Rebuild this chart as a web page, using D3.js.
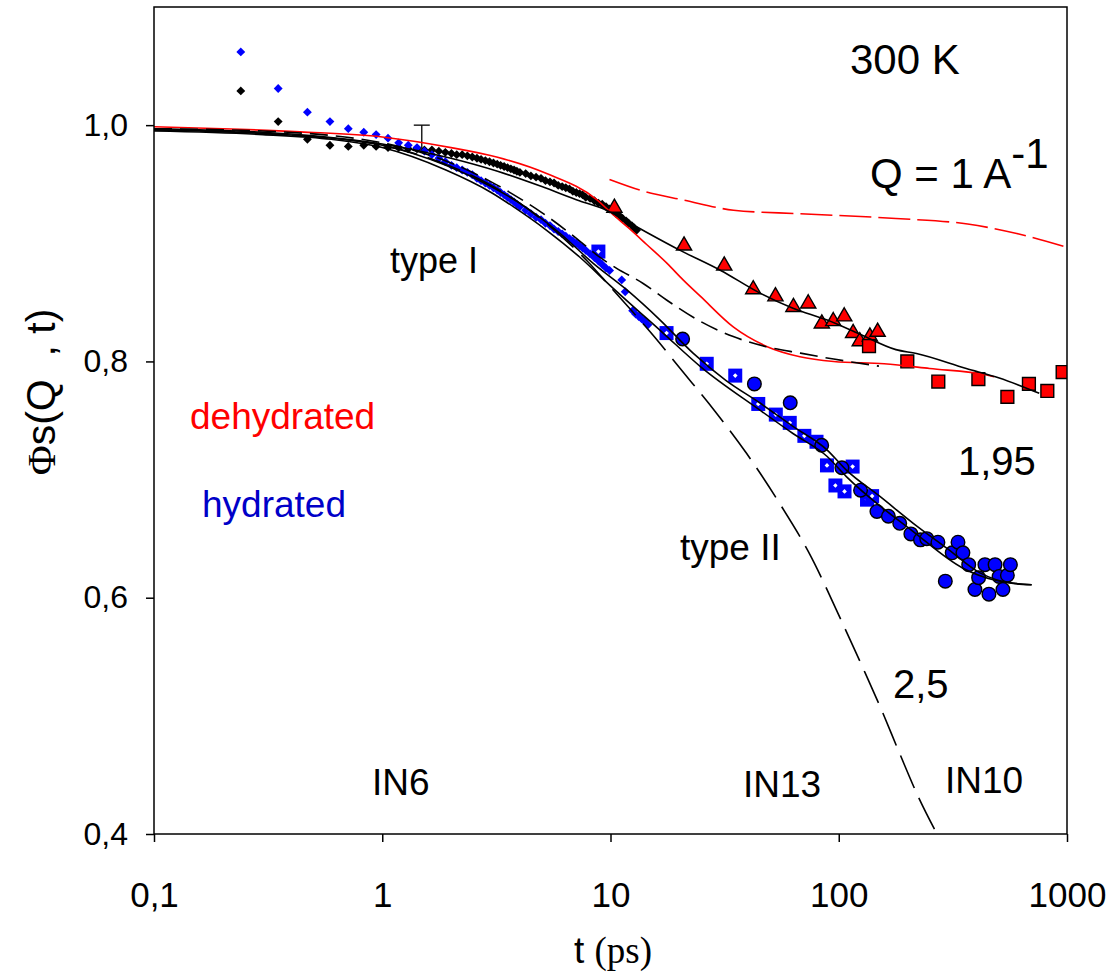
<!DOCTYPE html>
<html>
<head>
<meta charset="utf-8">
<script src="https://cdn.jsdelivr.net/npm/d3@7"></script>
<style>
  body { margin: 0; background: #fff; }
  svg { font-family: Arial, "Liberation Sans", sans-serif; }
</style>
</head>
<body>
<div id="chart"></div>
<script>
// axis ticks
const xTicks = [0.1, 1, 10, 100, 1000];
const xTickLabels = ['0,1', '1', '10', '100', '1000'];
const yTicks = [0.4, 0.6, 0.8, 1.0];
const yTickLabels = ['0,4', '0,6', '0,8', '1,0'];

// IN6 dehydrated (black diamonds)
const tDeh6 = [0.24, 0.35, 0.47, 0.59, 0.71, 0.83, 0.94, 1.06, 1.18, 1.30, 1.42, 1.53, 1.65, 1.77, 1.89,
  2.01, 2.12, 2.24, 2.36, 2.48, 2.60, 2.71, 2.83, 2.95, 3.07, 3.19, 3.30, 3.42, 3.54, 3.66, 3.78, 3.89,
  4.01, 4.25, 4.48, 4.72, 4.96, 5.19, 5.43, 5.66, 5.90, 6.14, 6.37, 6.61, 6.84, 7.08, 7.32, 7.55, 7.79,
  8.14, 8.50, 8.85, 9.20, 9.56, 9.91, 10.3, 10.6, 11.0, 11.3, 11.7, 12.0, 12.4, 12.7, 13.0];
const phiDeh6 = [1.029, 1.003, 0.988, 0.983, 0.982, 0.983, 0.982, 0.981, 0.981, 0.980, 0.980, 0.979, 0.979, 0.978, 0.977,
  0.976, 0.975, 0.975, 0.974, 0.973, 0.972, 0.971, 0.970, 0.969, 0.968, 0.967, 0.966, 0.965, 0.964, 0.963, 0.962, 0.961,
  0.960, 0.959, 0.957, 0.956, 0.955, 0.953, 0.952, 0.951, 0.949, 0.948, 0.947, 0.946, 0.944, 0.943, 0.942, 0.941, 0.939,
  0.938, 0.936, 0.934, 0.933, 0.931, 0.929, 0.927, 0.925, 0.923, 0.921, 0.919, 0.917, 0.915, 0.913, 0.911];

// IN6 hydrated (blue diamonds)
const tHyd6 = [0.24, 0.35, 0.47, 0.59, 0.71, 0.83, 0.94, 1.06, 1.18, 1.30, 1.42, 1.53, 1.65, 1.77, 1.89,
  2.01, 2.12, 2.24, 2.36, 2.48, 2.60, 2.71, 2.83, 2.95, 3.07, 3.19, 3.30, 3.42, 3.54, 3.66, 3.78, 3.89,
  4.01, 4.25, 4.48, 4.72, 4.96, 5.19, 5.43, 5.66, 5.90, 6.14, 6.37, 6.61, 6.84, 7.08, 7.32, 7.55, 7.79,
  8.14, 8.50, 8.85, 9.20, 9.56, 9.91, 11.2, 11.6, 12.5, 12.9, 13.3, 13.7, 14.1, 14.6];
const phiHyd6 = [1.062, 1.031, 1.011, 1.003, 0.997, 0.994, 0.992, 0.989, 0.985, 0.983, 0.981, 0.978, 0.975, 0.972, 0.969,
  0.966, 0.964, 0.962, 0.960, 0.958, 0.955, 0.953, 0.951, 0.949, 0.947, 0.945, 0.943, 0.941, 0.939, 0.937, 0.935, 0.933,
  0.931, 0.928, 0.925, 0.922, 0.920, 0.917, 0.915, 0.912, 0.910, 0.908, 0.906, 0.904, 0.902, 0.900, 0.898, 0.896, 0.894,
  0.891, 0.888, 0.885, 0.882, 0.879, 0.877, 0.869, 0.859, 0.843, 0.840, 0.838, 0.836, 0.834, 0.831];

// IN13 dehydrated (red triangles)
const tDeh13 = [10.4, 21.0, 31.5, 42.2, 52.8, 63.3, 73.5, 84.3, 94.6, 105.7, 115.6, 123.6, 136.9, 148];
const phiDeh13 = [0.930, 0.898, 0.881, 0.861, 0.855, 0.846, 0.849, 0.832, 0.834, 0.838, 0.824, 0.817, 0.821, 0.825];

// IN10 dehydrated (red squares)
const tDeh10 = [135.7, 199.7, 273, 409, 548, 681, 820, 957];
const phiDeh10 = [0.813, 0.800, 0.783, 0.785, 0.770, 0.781, 0.775, 0.791];

// IN13 hydrated (blue squares, white centre)
const tHyd13 = [8.85, 17.6, 26.4, 35.2, 44.4, 53.0, 61.0, 70.7, 79.9, 88.8, 96.7, 106, 115, 133, 140];
const phiHyd13 = [0.893, 0.824, 0.798, 0.788, 0.764, 0.755, 0.748, 0.737, 0.732, 0.712, 0.695, 0.690, 0.711, 0.683, 0.686];

// IN10 hydrated (blue circles)
const tHyd10 = [20.7, 42.7, 61.3, 84.2, 103.2, 124.6, 147, 165, 185, 207, 228, 243, 272, 293, 314, 333, 350,
  371, 395, 410, 437, 455, 484, 504, 524, 548, 565];
const phiHyd10 = [0.819, 0.781, 0.765, 0.729, 0.710, 0.691, 0.673, 0.669, 0.663, 0.654, 0.649, 0.650, 0.647, 0.614,
  0.638, 0.647, 0.638, 0.628, 0.607, 0.617, 0.628, 0.603, 0.628, 0.618, 0.607, 0.619, 0.628];

// error bar on the IN6 dehydrated data
const errT = [1.49];
const errLo = [0.980];
const errHi = [1.0];

// fitted curves
const tFitDeh = [0.1, 0.2, 0.436, 1, 2, 3.17, 5.25, 8.7, 10.3, 12, 14.4, 17.7, 20.8, 24.8, 34.6, 48.6, 67.6, 95, 158, 250, 445, 480];
const phiFitDeh = [0.9987, 0.997, 0.9943, 0.990, 0.981, 0.973, 0.959, 0.937, 0.924, 0.913, 0.899, 0.883, 0.869, 0.855, 0.829, 0.8125, 0.804, 0.800, 0.798, 0.794, 0.7885, 0.787];

const tFitDehDash = [9.9, 14, 20.9, 34.6, 67.6, 178, 367, 609, 1000];
const phiFitDehDash = [0.954, 0.944, 0.9366, 0.928, 0.925, 0.921, 0.9163, 0.908, 0.8965];

const tTypeI = [0.1, 0.3, 0.5, 1, 2, 3.2, 5, 7.3, 9.6, 13, 20.2, 30.4, 45, 63, 89, 124, 178, 219, 362, 505, 756];
const phiTypeI = [0.997, 0.994, 0.991, 0.984, 0.972, 0.961, 0.948, 0.936, 0.928, 0.914, 0.894, 0.877, 0.858, 0.845, 0.835, 0.823, 0.810, 0.8067, 0.794, 0.786, 0.773];

const tHydA = [0.1, 0.3, 0.6, 1, 1.9, 3, 4, 6, 8.4, 11.8, 16.5, 23, 32, 45, 63, 89, 108, 152, 212, 297, 416, 582, 700];
const phiHydA = [0.996, 0.993, 0.989, 0.983, 0.966, 0.948, 0.934, 0.9085, 0.883, 0.8605, 0.835, 0.807, 0.784, 0.765, 0.745, 0.725, 0.708, 0.6855, 0.663, 0.642, 0.621, 0.612, 0.611];

const tHydB = [0.1, 0.3, 0.6, 1, 1.9, 3, 3.75, 5.25, 7.3, 10, 17, 25, 45, 63, 89, 108, 212, 350, 480, 700];
const phiHydB = [0.995, 0.992, 0.988, 0.981, 0.962, 0.943, 0.931, 0.911, 0.8886, 0.864, 0.824, 0.795, 0.759, 0.739, 0.7195, 0.7025, 0.656, 0.625, 0.615, 0.611];

const tHydDash = [0.1, 0.3, 1, 2, 3, 4, 5, 7, 9, 10.6, 13.9, 17.6, 24.7, 34.5, 48, 68, 95, 150];
const phiHydDash = [0.997, 0.995, 0.985, 0.968, 0.952, 0.938, 0.926, 0.905, 0.888, 0.879, 0.866, 0.852, 0.834, 0.821, 0.8125, 0.807, 0.802, 0.796];

const tTypeII = [0.1, 0.3, 1, 2, 3, 4, 5, 6.5, 8, 10, 12.5, 15.7, 20.2, 28.8, 39.5, 55, 73.6, 104.7, 128, 154, 185, 223, 268.5];
const phiTypeII = [0.996, 0.993, 0.983, 0.965, 0.949, 0.934, 0.920, 0.901, 0.884, 0.863, 0.842, 0.820, 0.794, 0.7575, 0.722, 0.680, 0.639, 0.577, 0.540, 0.505, 0.468, 0.4316, 0.4006];

const zip = (ts, vs) => ts.map((t, i) => ({ t, v: vs[i] }));

class PhiChart {
  constructor(_config) {
    this.config = {
      parentElement: _config.parentElement,
      containerWidth: 1116,
      containerHeight: 980,
      margin: {
        top: 7, right: 49, bottom: 146, left: 154,
      },
    };
    this.initVis();
  }

  initVis() {
    const vis = this;

    vis.width = vis.config.containerWidth - vis.config.margin.left - vis.config.margin.right;
    vis.height = vis.config.containerHeight - vis.config.margin.top - vis.config.margin.bottom;

    vis.svg = d3.select(vis.config.parentElement).append('svg')
      .attr('width', vis.config.containerWidth)
      .attr('height', vis.config.containerHeight);

    vis.chart = vis.svg.append('g')
      .attr('transform', `translate(${vis.config.margin.left},${vis.config.margin.top})`);

    vis.svg.append('defs').append('clipPath')
      .attr('id', 'plot-clip')
      .append('rect')
      .attr('width', vis.width)
      .attr('height', vis.height);

    vis.xScale = d3.scaleLog()
      .domain([0.1, 1000])
      .range([0, vis.width]);

    vis.yScale = d3.scaleLinear()
      .domain([0.4, 1.1])
      .range([vis.height, 0]);

    vis.xAxis = d3.axisBottom(vis.xScale)
      .tickValues(xTicks)
      .tickFormat((d, i) => xTickLabels[i])
      .tickSizeInner(8)
      .tickSizeOuter(0)
      .tickPadding(40);

    vis.yAxis = d3.axisLeft(vis.yScale)
      .tickValues(yTicks)
      .tickFormat((d, i) => yTickLabels[i])
      .tickSizeInner(8)
      .tickSizeOuter(0)
      .tickPadding(18);

    vis.xAxisG = vis.chart.append('g')
      .attr('class', 'axis x-axis')
      .attr('transform', `translate(0,${vis.height})`);

    vis.yAxisG = vis.chart.append('g')
      .attr('class', 'axis y-axis');

    vis.line = d3.line()
      .x((d) => vis.xScale(d.t))
      .y((d) => vis.yScale(d.v))
      .curve(d3.curveMonotoneX);

    vis.renderVis();
  }

  renderVis() {
    const vis = this;
    const x = vis.xScale;
    const y = vis.yScale;

    // axes
    vis.xAxisG.call(vis.xAxis)
      .call((g) => g.select('.domain').remove());
    vis.yAxisG.call(vis.yAxis)
      .call((g) => g.select('.domain').remove());
    vis.chart.selectAll('.tick line').attr('stroke', '#000').attr('stroke-width', 1.5);
    vis.chart.selectAll('.tick text')
      .attr('fill', '#000')
      .style('font-family', 'Arial, "Liberation Sans", sans-serif');
    vis.xAxisG.selectAll('.tick text').style('font-size', '35px');
    vis.yAxisG.selectAll('.tick text').style('font-size', '32px');

    const plot = vis.chart.append('g').attr('clip-path', 'url(#plot-clip)');

    // IN6 small diamonds
    const diamond = d3.symbol().type(d3.symbolDiamond2).size(50);
    plot.selectAll('.in6-deh').data(zip(tDeh6, phiDeh6)).join('path')
      .attr('class', 'in6-deh')
      .attr('d', diamond)
      .attr('transform', (d) => `translate(${x(d.t)},${y(d.v)})`)
      .attr('fill', '#000');
    plot.selectAll('.in6-hyd').data(zip(tHyd6, phiHyd6)).join('path')
      .attr('class', 'in6-hyd')
      .attr('d', diamond)
      .attr('transform', (d) => `translate(${x(d.t)},${y(d.v)})`)
      .attr('fill', '#0000ff');

    // error bar (upper half)
    const err = errT.map((t, i) => ({ t, lo: errLo[i], hi: errHi[i] }));
    plot.selectAll('.err-v').data(err).join('line')
      .attr('class', 'err-v')
      .attr('x1', (d) => x(d.t)).attr('x2', (d) => x(d.t))
      .attr('y1', (d) => y(d.lo)).attr('y2', (d) => y(d.hi))
      .attr('stroke', '#000').attr('stroke-width', 1.3);
    plot.selectAll('.err-cap').data(err).join('line')
      .attr('class', 'err-cap')
      .attr('x1', (d) => x(d.t) - 8).attr('x2', (d) => x(d.t) + 8)
      .attr('y1', (d) => y(d.hi)).attr('y2', (d) => y(d.hi))
      .attr('stroke', '#000').attr('stroke-width', 1.3);

    // IN13 / IN10 dehydrated
    plot.selectAll('.in13-deh').data(zip(tDeh13, phiDeh13)).join('path')
      .attr('class', 'in13-deh')
      .attr('d', d3.symbol().type(d3.symbolTriangle).size(100))
      .attr('transform', (d) => `translate(${x(d.t)},${y(d.v)})`)
      .attr('fill', '#ff0000')
      .attr('stroke', '#000')
      .attr('stroke-width', 1.4);
    plot.selectAll('.in10-deh').data(zip(tDeh10, phiDeh10)).join('path')
      .attr('class', 'in10-deh')
      .attr('d', d3.symbol().type(d3.symbolSquare).size(165))
      .attr('transform', (d) => `translate(${x(d.t)},${y(d.v)})`)
      .attr('fill', '#ff0000')
      .attr('stroke', '#000')
      .attr('stroke-width', 1.4);

    // IN13 hydrated: blue square with white centre
    const sq = plot.selectAll('.in13-hyd').data(zip(tHyd13, phiHyd13)).join('g')
      .attr('class', 'in13-hyd')
      .attr('transform', (d) => `translate(${x(d.t)},${y(d.v)})`);
    sq.append('rect')
      .attr('x', -7).attr('y', -7)
      .attr('width', 14).attr('height', 14)
      .attr('fill', '#0000ff');
    sq.append('path')
      .attr('d', d3.symbol().type(d3.symbolDiamond2).size(14))
      .attr('fill', '#fff');

    // IN10 hydrated circles
    plot.selectAll('.in10-hyd').data(zip(tHyd10, phiHyd10)).join('circle')
      .attr('class', 'in10-hyd')
      .attr('cx', (d) => x(d.t))
      .attr('cy', (d) => y(d.v))
      .attr('r', 6.8)
      .attr('fill', '#0000ff')
      .attr('stroke', '#000')
      .attr('stroke-width', 1.4);

    // fitted curves
    const curves = [
      { data: zip(tFitDeh, phiFitDeh), color: '#ff0000', dash: null },
      { data: zip(tFitDehDash, phiFitDehDash), color: '#ff0000', dash: '32,7' },
      { data: zip(tTypeI, phiTypeI), color: '#000', dash: null },
      { data: zip(tHydA, phiHydA), color: '#000', dash: null },
      { data: zip(tHydB, phiHydB), color: '#000', dash: null },
      { data: zip(tHydDash, phiHydDash), color: '#000', dash: '18,8' },
      { data: zip(tTypeII, phiTypeII), color: '#000', dash: '35,11' },
    ];
    plot.selectAll('.fit').data(curves).join('path')
      .attr('class', 'fit')
      .attr('d', (d) => vis.line(d.data))
      .attr('fill', 'none')
      .attr('stroke', (d) => d.color)
      .attr('stroke-width', 1.6)
      .attr('stroke-dasharray', (d) => d.dash);

    // frame
    vis.chart.append('rect')
      .attr('width', vis.width)
      .attr('height', vis.height)
      .attr('fill', 'none')
      .attr('stroke', '#000')
      .attr('stroke-width', 1.5);

    // annotations (absolute positions on the svg)
    const note = (txt, px, py, size, color) => vis.svg.append('text')
      .attr('x', px).attr('y', py)
      .attr('fill', color || '#000')
      .style('font-size', `${size}px`)
      .text(txt);

    note('300 K', 850, 74, 42);
    const q = note('Q = 1 A', 870, 188, 42);
    q.append('tspan').attr('dy', -20).text('-1');
    note('type I', 390, 273, 36);
    note('dehydrated', 190, 429, 37, '#ff0000');
    note('hydrated', 202, 517, 37, '#0000c8');
    note('type II', 680, 560, 37);
    note('1,95', 958, 475, 40);
    note('2,5', 893, 698, 40);
    note('IN6', 372, 795, 37);
    note('IN13', 743, 797, 37);
    note('IN10', 945, 793, 37);

    // axis titles
    const xt = vis.svg.append('text')
      .attr('x', 613).attr('y', 963)
      .attr('text-anchor', 'middle')
      .style('font-size', '37px')
      .text('t ');
    xt.append('tspan')
      .style('font-family', '"Liberation Serif", "Times New Roman", serif')
      .text('(ps)');

    const yt = vis.svg.append('text')
      .attr('transform', 'translate(55,392) rotate(-90)')
      .attr('text-anchor', 'middle')
      .style('font-size', '41px')
      .style('white-space', 'pre');
    yt.append('tspan')
      .style('font-family', '"Liberation Serif", "Times New Roman", serif')
      .text('Φ');
    yt.append('tspan').text('s(Q  , t)');
  }
}

new PhiChart({ parentElement: '#chart' });
</script>
</body>
</html>
